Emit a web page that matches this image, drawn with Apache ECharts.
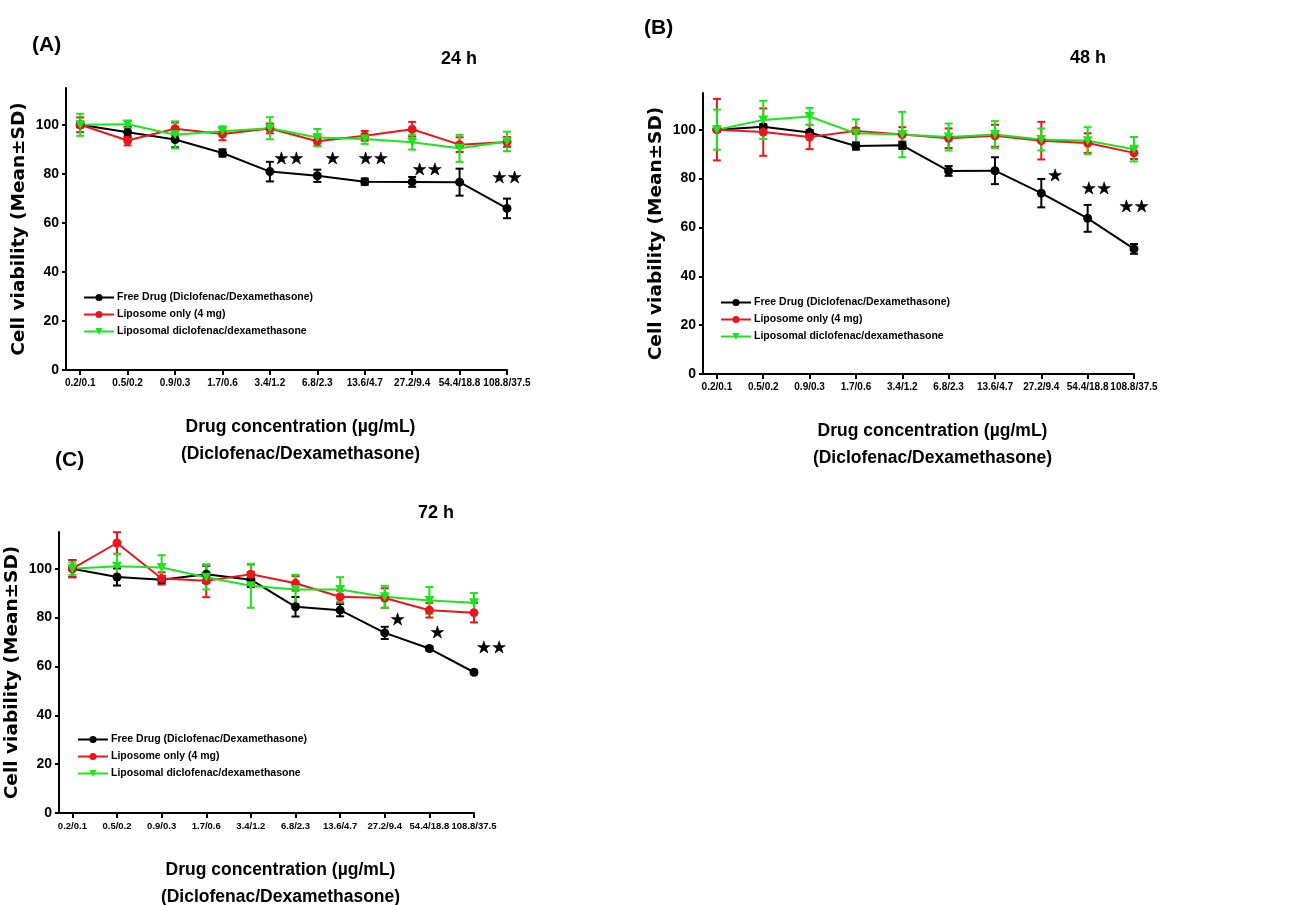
<!DOCTYPE html>
<html>
<head>
<meta charset="utf-8">
<script src="https://cdn.jsdelivr.net/npm/echarts@6/dist/echarts.min.js"></script>
<style>
  html, body { margin: 0; padding: 0; background: #fff; }
  #chart { width: 1293px; height: 905px; }
</style>
</head>
<body>
<div id="chart"></div>
<script>
  // concentrations (Diclofenac/Dexamethasone, µg/mL)
  const cats = ['0.2/0.1', '0.5/0.2', '0.9/0.3', '1.7/0.6', '3.4/1.2', '6.8/2.3', '13.6/4.7', '27.2/9.4', '54.4/18.8', '108.8/37.5'];
  const yTicks = [0, 20, 40, 60, 80, 100];
  const seriesNames = ['Free Drug (Diclofenac/Dexamethasone)', 'Liposome only (4 mg)', 'Liposomal diclofenac/dexamethasone'];

  // (A) 24 h
  const freeA = [100, 97, 94, 88.5, 80.9, 79.2, 76.8, 76.7, 76.6, 65.9];
  const freeA_sd = [1, 2, 3.2, 1.5, 4, 2.5, 1.3, 2, 5.5, 4];
  const lipoA = [100, 93.6, 98.4, 96.2, 98.5, 93.3, 95.5, 98.2, 91.9, 93];
  const lipoA_sd = [3, 2, 2.5, 2.5, 2, 2, 2, 3, 3, 2];
  const drugA = [100, 100.2, 95.9, 97.4, 98.6, 94.8, 94.2, 92.9, 90.4, 93.2];
  const drugA_sd = [4.5, 1.5, 5.5, 2, 4.5, 3.5, 2, 3, 5.5, 4];
  const starsA = [[4.4, 86, '★★'], [5.32, 86, '★'], [6.18, 86, '★★'], [7.32, 81.5, '★★'], [9.0, 78, '★★']];

  // (B) 48 h
  const freeB = [100, 101.2, 98.8, 93.3, 93.6, 83.1, 83.2, 74, 63.7, 51.2];
  const freeB_sd = [0.8, 1, 1, 1.5, 1.5, 2, 5.5, 5.8, 5.5, 2];
  const lipoB = [100, 99, 97, 99.5, 98, 96.5, 97.5, 95.5, 94.5, 90.5];
  const lipoB_sd = [12.6, 9.7, 5, 1.2, 3, 4, 4.5, 7.7, 4, 2.5];
  const drugB = [100, 104, 105.4, 98.5, 98, 97, 98, 96, 95.5, 92];
  const drugB_sd = [8.2, 7.8, 3.5, 5.7, 9.3, 5.5, 5.5, 4.5, 5.5, 5];
  const starsB = [[7.3, 80.8, '★'], [8.19, 75.3, '★★'], [9.0, 68.2, '★★']];

  // (C) 72 h
  const freeC = [100, 96.6, 95.5, 97.7, 95.5, 84.4, 83, 73.7, 67.3, 57.6];
  const freeC_sd = [3.5, 3.5, 1.5, 3.5, 3, 4, 2.5, 2.5, 0.8, 0.8];
  const lipoC = [100, 110.5, 96, 95, 97.7, 94, 88.5, 88, 83, 82];
  const lipoC_sd = [3.5, 4.4, 2.5, 6.7, 4, 3, 2.5, 4, 3, 4];
  const drugC = [100, 101, 100.5, 96.5, 93, 91.5, 91.5, 88.5, 87, 86];
  const drugC_sd = [2.5, 5, 5, 5, 9, 6, 5, 4.5, 5.5, 4];
  const starsC = [[7.29, 78.8, '★'], [8.18, 73.5, '★'], [9.39, 67.3, '★★']];

  const colors = ['#000000', '#e8161e', '#1ee31e'];
  const symbols = ['circle', 'circle', 'path://M0,0 L10,0 L5,9 Z'];
  const narrow = "'Liberation Sans Narrow', 'Arial Narrow', 'Liberation Sans', sans-serif";
  const sans = "'Liberation Sans', Arial, sans-serif";
  const wide = "'DejaVu Sans', Verdana, sans-serif";

  const panels = [
    {label: '(A)', time: '24 h', data: [[freeA, freeA_sd], [lipoA, lipoA_sd], [drugA, drugA_sd]], stars: starsA,
      grid: {left: 66, top: 88, width: 441, height: 282}, tickFont: 10,
      labelPos: {left: 32, top: 35}, timePos: {left: 441, top: 50},
      legendPos: {left: 83, top: 292}},
    {label: '(B)', time: '48 h', data: [[freeB, freeB_sd], [lipoB, lipoB_sd], [drugB, drugB_sd]], stars: starsB,
      grid: {left: 703, top: 93, width: 431, height: 281}, tickFont: 10,
      labelPos: {left: 644, top: 18}, timePos: {left: 1070, top: 49},
      legendPos: {left: 720, top: 297}},
    {label: '(C)', time: '72 h', data: [[freeC, freeC_sd], [lipoC, lipoC_sd], [drugC, drugC_sd]], stars: starsC,
      grid: {left: 59, top: 532, width: 415, height: 281}, tickFont: 9.5,
      labelPos: {left: 55, top: 450}, timePos: {left: 418, top: 504},
      legendPos: {left: 77, top: 734}}
  ];

  function errorBars(idx, means, sds, color) {
    return {
      type: 'custom',
      xAxisIndex: idx,
      yAxisIndex: idx,
      z: 3,
      silent: true,
      data: means.map((m, k) => [k, m - sds[k], m + sds[k]]),
      renderItem: (params, api) => {
        const lo = api.coord([api.value(0), api.value(1)]);
        const hi = api.coord([api.value(0), api.value(2)]);
        const w = 4;
        const style = {stroke: color, lineWidth: 2};
        return {
          type: 'group',
          children: [
            {type: 'line', shape: {x1: lo[0], y1: lo[1], x2: hi[0], y2: hi[1]}, style},
            {type: 'line', shape: {x1: lo[0] - w, y1: lo[1], x2: lo[0] + w, y2: lo[1]}, style},
            {type: 'line', shape: {x1: hi[0] - w, y1: hi[1], x2: hi[0] + w, y2: hi[1]}, style}
          ]
        };
      }
    };
  }

  const option = {
    animation: false,
    backgroundColor: '#fff',
    title: [],
    legend: [],
    grid: [],
    xAxis: [],
    yAxis: [],
    series: []
  };

  panels.forEach((p, i) => {
    option.grid.push(Object.assign({outerBoundsMode: 'none', containLabel: false}, p.grid));
    option.title.push({text: p.label, left: p.labelPos.left, top: p.labelPos.top, padding: 0,
      textStyle: {fontFamily: sans, fontWeight: 'bold', fontSize: 21, color: '#000'}});
    option.title.push({text: p.time, left: p.timePos.left, top: p.timePos.top, padding: 0,
      textStyle: {fontFamily: sans, fontWeight: 'bold', fontSize: 18, color: '#000'}});
    option.xAxis.push({
      type: 'value',
      gridIndex: i,
      min: -0.3,
      max: 9,
      splitLine: {show: false},
      axisLine: {onZero: false, lineStyle: {color: '#000', width: 2}},
      axisTick: {customValues: cats.map((c, k) => k), length: 5, lineStyle: {color: '#000', width: 2}},
      axisLabel: {customValues: cats.map((c, k) => k), formatter: v => cats[Math.round(v)],
        showMinLabel: true, showMaxLabel: true, hideOverlap: false,
        margin: 8, fontFamily: narrow, fontWeight: 'bold', fontSize: p.tickFont, color: '#000'},
      name: 'Drug concentration (µg/mL)\n(Diclofenac/Dexamethasone)',
      nameLocation: 'middle',
      nameGap: 44,
      nameTextStyle: {fontFamily: narrow, fontWeight: 'bold', fontSize: 17.5, lineHeight: 27,
        color: '#000', padding: [0, 0, 0, 28], verticalAlign: 'top'}
    });
    option.yAxis.push({
      type: 'value',
      gridIndex: i,
      min: 0,
      max: 115,
      splitLine: {show: false},
      axisLine: {show: true, onZero: false, lineStyle: {color: '#000', width: 2}},
      axisTick: {show: true, customValues: yTicks, length: 4, lineStyle: {color: '#000', width: 2}},
      axisLabel: {customValues: yTicks, margin: 7, fontFamily: sans, fontWeight: 'bold', fontSize: 14, color: '#000'},
      name: 'Cell viability (Mean±SD)',
      nameLocation: 'middle',
      nameGap: 37,
      nameTextStyle: {fontFamily: wide, fontWeight: 'bold', fontSize: 18.5, color: '#000'}
    });
    option.legend.push({
      left: p.legendPos.left,
      top: p.legendPos.top,
      orient: 'vertical',
      padding: 0,
      itemGap: 6,
      itemWidth: 30,
      itemHeight: 9,
      selectedMode: false,
      data: seriesNames,
      textStyle: {fontFamily: narrow, fontWeight: 'bold', fontSize: 10.5, color: '#000', padding: [0, 0, 0, -2]}
    });

    p.data.forEach(([means, sds], s) => {
      option.series.push({
        type: 'line',
        name: seriesNames[s],
        xAxisIndex: i,
        yAxisIndex: i,
        data: means.map((m, k) => [k, m]),
        symbol: symbols[s],
        symbolSize: s === 2 ? [10, 9] : 9,
        showSymbol: true,
        z: 4,
        color: colors[s],
        lineStyle: {color: colors[s], width: 2},
        itemStyle: {color: colors[s]}
      });
      option.series.push(errorBars(i, means, sds, colors[s]));
    });

    option.series.push({
      type: 'scatter',
      xAxisIndex: i,
      yAxisIndex: i,
      clip: false,
      silent: true,
      symbolSize: 0,
      z: 6,
      itemStyle: {color: '#000', opacity: 1},
      data: p.stars.map(st => ({value: [st[0], st[1]], name: st[2]})),
      label: {show: true, position: 'inside', formatter: d => d.name, opacity: 1,
        fontFamily: wide, fontSize: 17, color: '#000', textBorderColor: '#000', textBorderWidth: 0.5}
    });
  });

  const chart = echarts.init(document.getElementById('chart'));
  chart.setOption(option);
</script>
</body>
</html>
